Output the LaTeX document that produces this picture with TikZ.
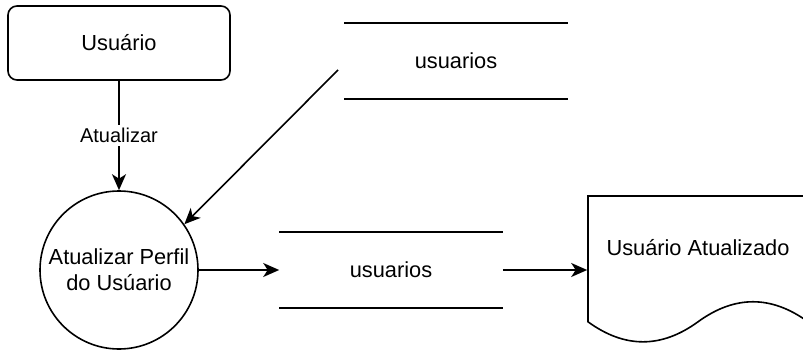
\documentclass[tikz,border=0pt]{standalone}
\usepackage{fontspec}
\setmainfont{Liberation Sans}
\usetikzlibrary{arrows.meta}

\tikzset{
  flow/.style = { line width=1.6pt, -{Stealth[length=16pt,width=14pt,inset=4.5pt]} },
  entity/.style = { draw, line width=1.6pt, rounded corners=9pt, minimum width=222pt, minimum height=74pt },
  process/.style = { draw, circle, line width=1.6pt, minimum size=158pt, inner sep=0pt, align=center },
  datastore/.style = { minimum width=222pt, minimum height=74pt }
}

\begin{document}
\begin{tikzpicture}[ x=1pt, y=-1pt, font=\fontsize{21.8}{26}\selectfont, line width=1.6pt ]
        \useasboundingbox (0, 0) rectangle (803, 350);
        \clip (0, 0) rectangle (803, 350);

        \node [ entity ] (usuario) at (119, 43) {Usuário};
        \node [ process ] (proc) at (119, 270) {Atualizar Perfil\\do Usúario};

        \node [ datastore ] (usuarios1) at (456, 61) {usuarios};
        \draw (usuarios1.north west) -- (usuarios1.north east);
        \draw (usuarios1.south west) -- (usuarios1.south east);

        \node [ datastore ] (usuarios2) at (391, 270) {usuarios};
        \draw (usuarios2.north west) -- (usuarios2.north east);
        \draw (usuarios2.south west) -- (usuarios2.south east);

        % document shape, right part runs off the page
        \node [ minimum width=220pt, minimum height=148pt ] (doc) at (698, 270) {};
        \draw (808, 321.8) -- (808, 196) -- (588, 196) -- (588, 321.8)
              .. controls (624.7, 348.5) and (661.3, 348.5) .. (698, 321.8)
              .. controls (734.7, 295.1) and (771.3, 295.1) .. (808, 321.8);
        \node (doctext) at (698, 248) {Usuário Atualizado};

        \coordinate (src) at (338, 70);

        \draw [ flow ] (usuario) -- (proc)
              node [ midway, fill=white, inner sep=3pt, font=\fontsize{20}{24}\selectfont ] {Atualizar};
        \draw [ flow ] (src) -- (proc.35);
        \draw [ flow ] (proc) -- (usuarios2.west);
        \draw [ flow ] (usuarios2.east) -- (doc.west);
      \end{tikzpicture}
\end{document}
